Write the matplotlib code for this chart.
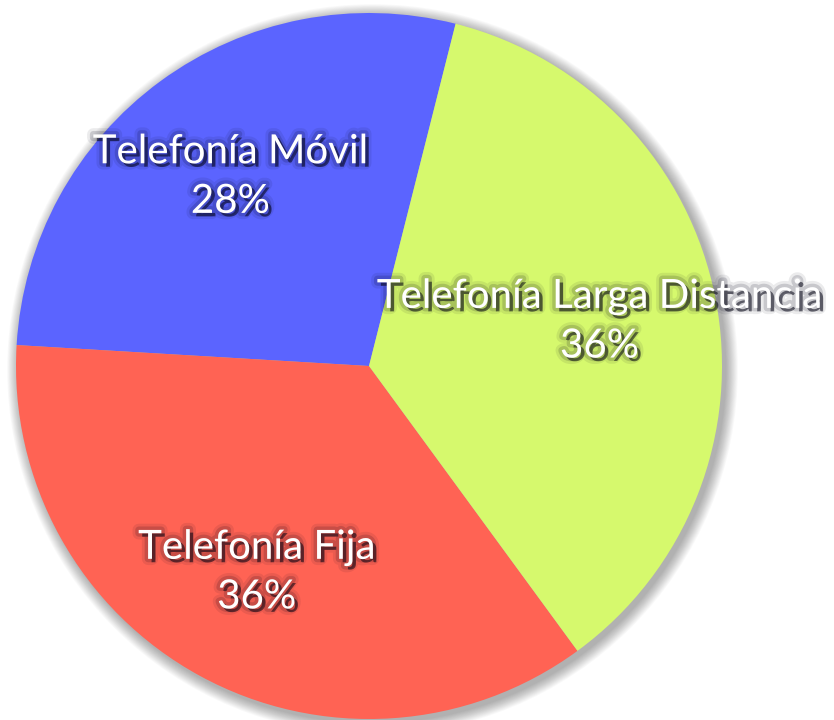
import matplotlib
matplotlib.use("Agg")
from matplotlib import pyplot as plt
from matplotlib.patches import Circle
import matplotlib.patheffects as pe

# data
labels = ["Telefonía Móvil", "Telefonía Fija", "Telefonía Larga Distancia"]
shares = [28, 36, 36]
colors = ["#5b64ff", "#ff6354", "#d6f96d"]

fig = plt.figure(figsize=(8.34, 7.2), dpi=100)
ax = fig.add_axes([0, 0, 1, 1])

label_it = iter(labels)


def fmt(pct):
    return f"{next(label_it)}\n{pct:.0f}%"


wedges, texts, autotexts = ax.pie(
    shares, colors=colors, startangle=75.8, counterclock=True, radius=1,
    labels=None, autopct=fmt, pctdistance=0.665,
    wedgeprops=dict(linewidth=0),
    textprops=dict(color="white", fontsize=29, family="Lato",
                   linespacing=1.42, ha="center", va="center"))

# pixel geometry of the pie in the reference (set after pie, which resets limits)
cx, cy, r = 369, 366, 353
ax.set_xlim(-cx / r, (834 - cx) / r)
ax.set_ylim(-(720 - cy) / r, cy / r)
ax.set_aspect("equal")
ax.axis("off")

# soft drop shadow behind the pie
for i in range(14):
    ax.add_patch(Circle((0.01, -0.01), 1 + 0.0025 * (14 - i), color="black",
                        alpha=0.022, lw=0, zorder=0))

txt_fx = [pe.Stroke(linewidth=9, foreground="#000018", alpha=0.08),
          pe.Stroke(linewidth=5, foreground="#000018", alpha=0.15),
          pe.withSimplePatchShadow(offset=(2.5, -2.5), shadow_rgbFace="#000010", alpha=0.55)]

for t in autotexts:
    t.set_path_effects(txt_fx)
    t.set_zorder(5)
    t.set_clip_on(False)

fig.savefig("out.png", dpi=100)
